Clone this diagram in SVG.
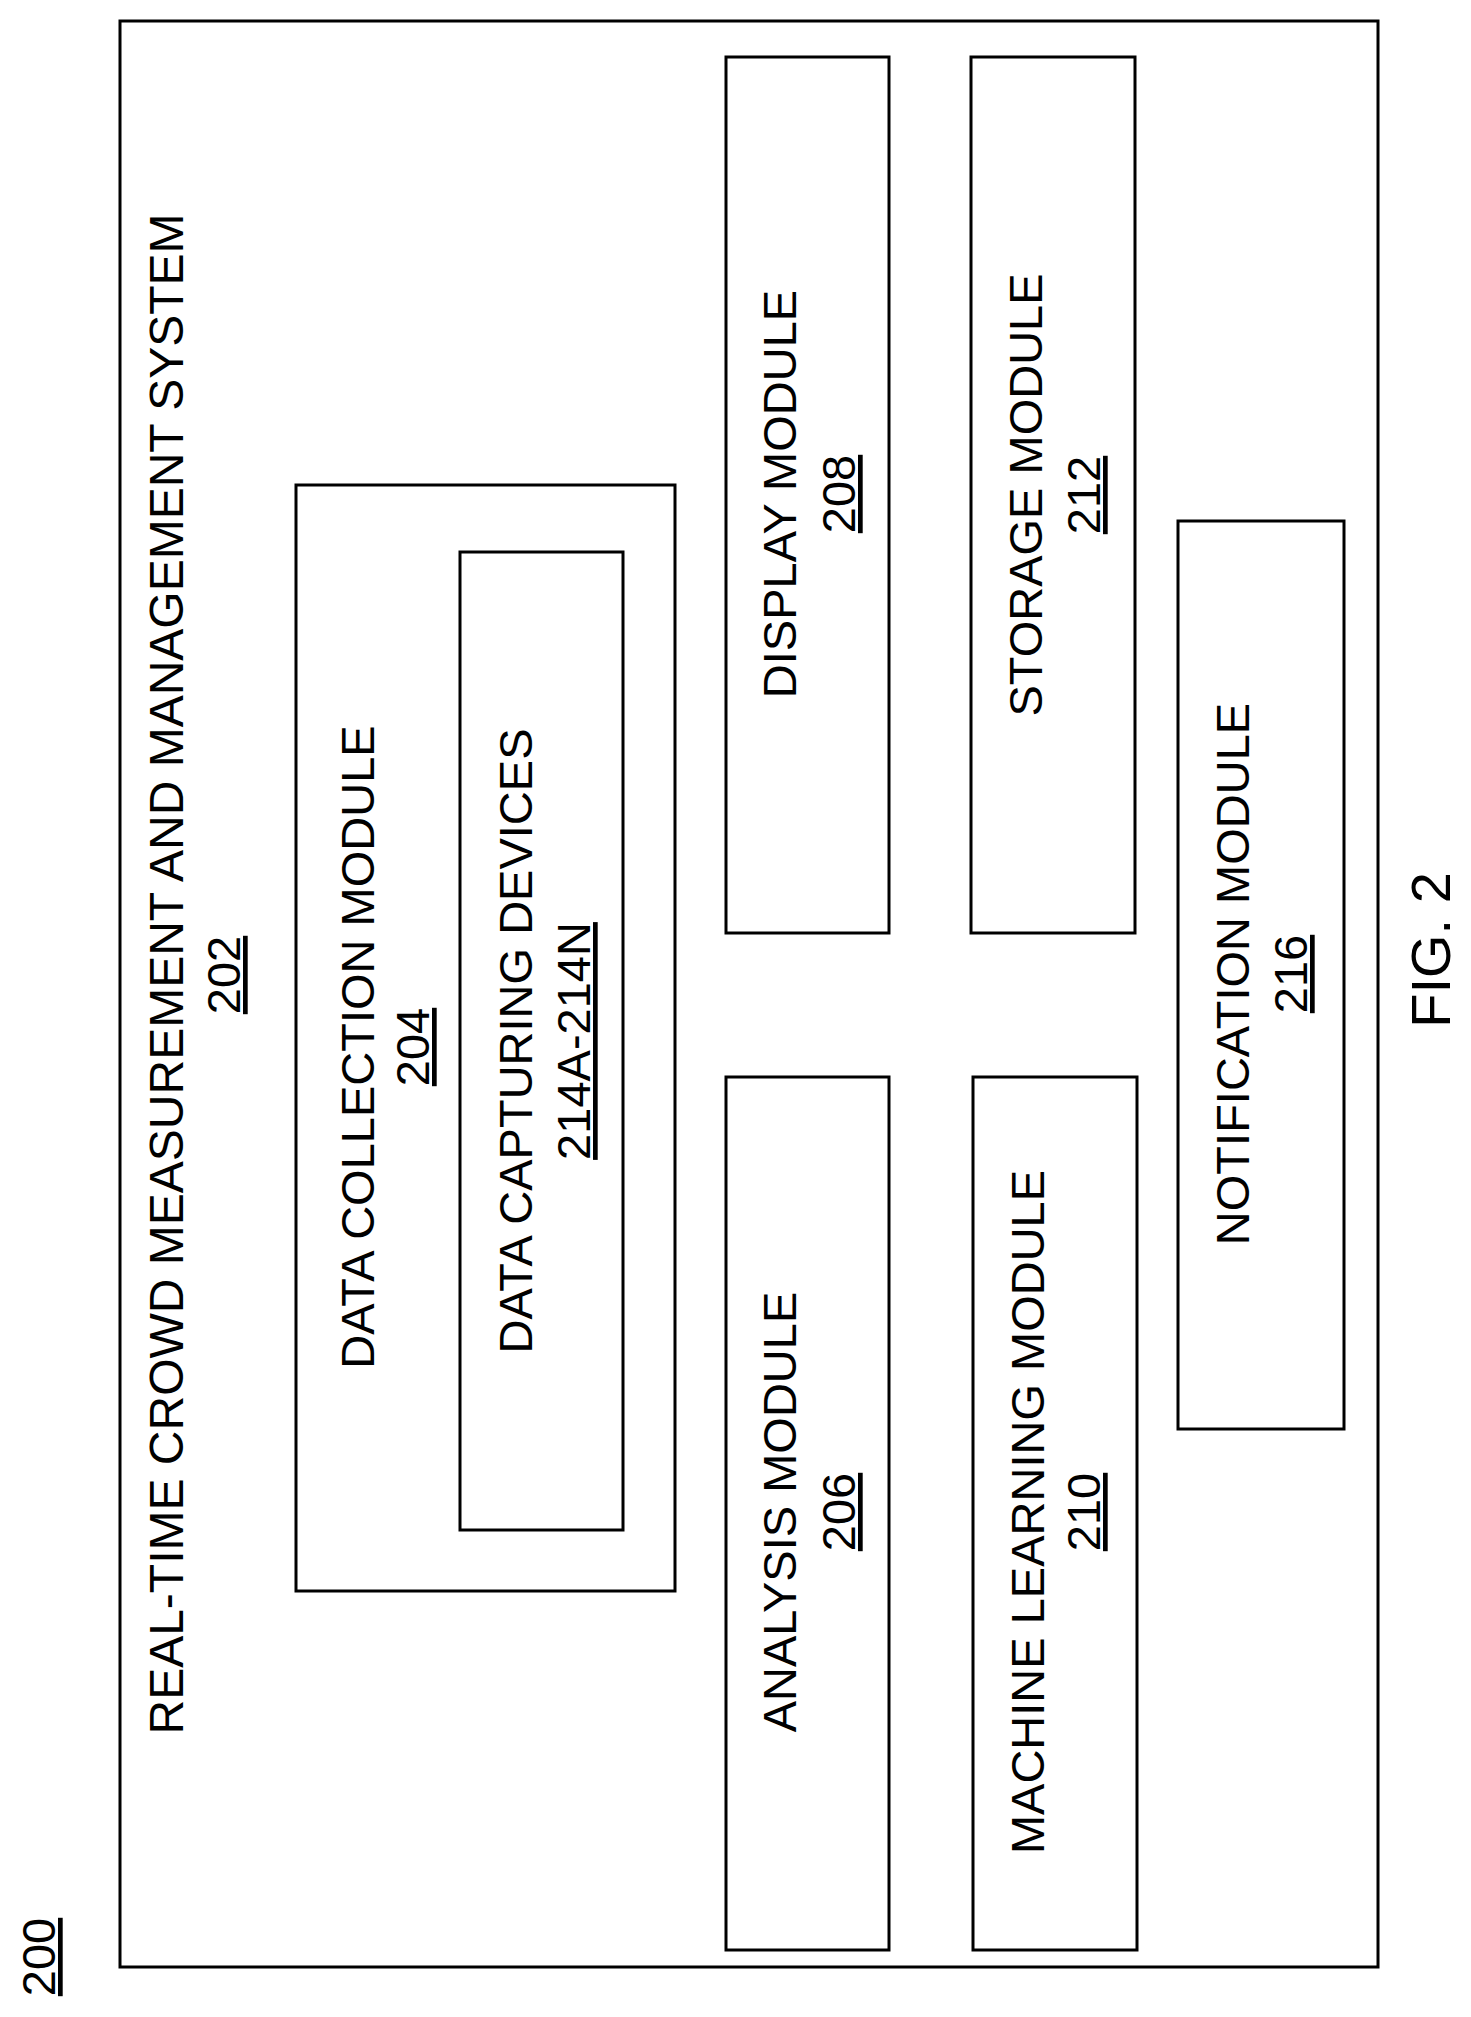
<svg xmlns="http://www.w3.org/2000/svg" width="1471" height="2017" viewBox="0 0 1471 2017">
<style>
rect{fill:none;stroke:#000;stroke-width:3}
text{font-family:"Liberation Sans",Arial,sans-serif;font-size:47px;text-anchor:middle;fill:#000}
.u{text-decoration:underline}
</style>
<rect x="0" y="0" width="1471" height="2017" style="fill:#fff;stroke:none"/>
<g id="label200"><text class="u" transform="translate(55,1957) rotate(-90)">200</text></g>
<g id="n202"><rect x="120" y="21" width="1258" height="1946"/>
<text style="font-size:48px" transform="translate(183,974) rotate(-90)">REAL-TIME CROWD MEASUREMENT AND MANAGEMENT SYSTEM</text>
<text class="u" transform="translate(240,975) rotate(-90)">202</text></g>
<g id="n204"><rect x="296" y="485" width="379" height="1106"/>
<text transform="translate(374,1047) rotate(-90)">DATA COLLECTION MODULE</text>
<text class="u" transform="translate(429,1047) rotate(-90)">204</text></g>
<g id="n214"><rect x="460" y="552" width="163" height="978"/>
<text transform="translate(532,1041) rotate(-90)">DATA CAPTURING DEVICES</text>
<text class="u" transform="translate(590,1041) rotate(-90)">214A-214N</text></g>
<g id="n208"><rect x="726" y="57" width="163" height="876"/>
<text transform="translate(796,494) rotate(-90)">DISPLAY MODULE</text>
<text class="u" transform="translate(855,494) rotate(-90)">208</text></g>
<g id="n206"><rect x="726" y="1077" width="163" height="873"/>
<text transform="translate(796,1512) rotate(-90)">ANALYSIS MODULE</text>
<text class="u" transform="translate(855,1512) rotate(-90)">206</text></g>
<g id="n212"><rect x="971" y="57" width="164" height="876"/>
<text transform="translate(1042,495) rotate(-90)">STORAGE MODULE</text>
<text class="u" transform="translate(1100,495) rotate(-90)">212</text></g>
<g id="n210"><rect x="973" y="1077" width="164" height="873"/>
<text transform="translate(1044,1512) rotate(-90)">MACHINE LEARNING MODULE</text>
<text class="u" transform="translate(1100,1512) rotate(-90)">210</text></g>
<g id="n216"><rect x="1178" y="521" width="166" height="908"/>
<text transform="translate(1249,974) rotate(-90)">NOTIFICATION MODULE</text>
<text class="u" transform="translate(1307,974) rotate(-90)">216</text></g>
<g id="connectors"></g>
<g id="fig"><text style="font-size:56px" transform="translate(1450,950) rotate(-90)">FIG. 2</text></g>
</svg>
